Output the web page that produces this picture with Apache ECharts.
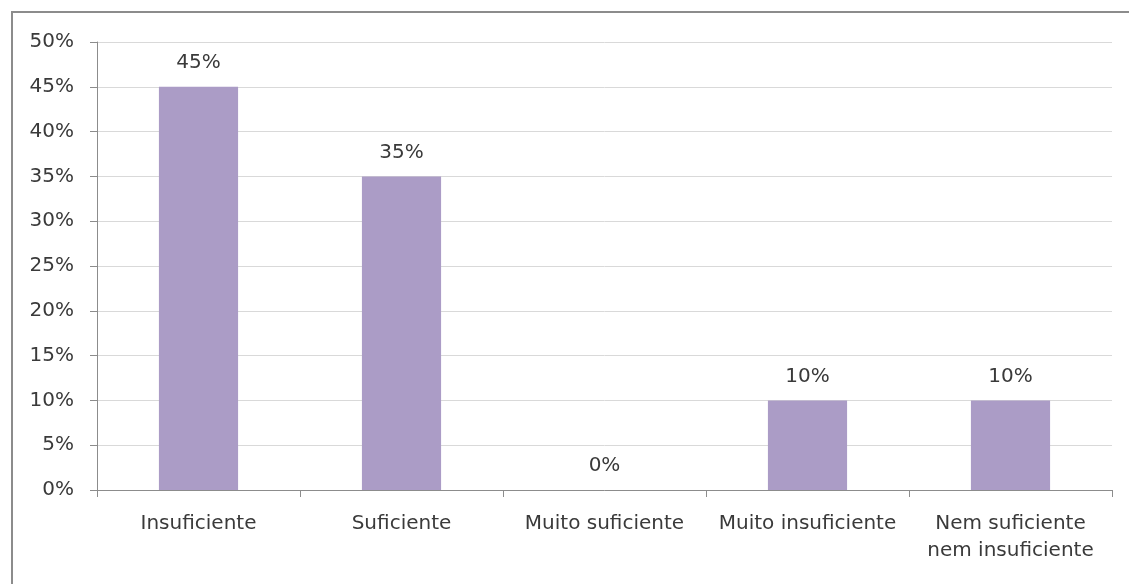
<!DOCTYPE html>
<html>
<head>
<meta charset="utf-8">
<script src="https://cdn.jsdelivr.net/npm/echarts@6/dist/echarts.min.js"></script>
<style>
  html, body { margin: 0; padding: 0; background: #fff; }
  #frame { position: absolute; left: 11px; top: 11px; width: 1130px; height: 600px;
           border-left: 2px solid #8c8c8c; border-top: 2px solid #8c8c8c; box-sizing: border-box; }
  #chart { position: absolute; left: 0; top: 0; width: 1129px; height: 584px; }
</style>
</head>
<body>
<div id="frame"></div>
<div id="chart"></div>
<script>
// Response categories and their shares (%)
const categories = ['Insuficiente', 'Suficiente', 'Muito suficiente', 'Muito insuficiente', 'Nem suficiente\nnem insuficiente'];
const shares = [45, 35, 0, 10, 10];
const yTicks = [0, 5, 10, 15, 20, 25, 30, 35, 40, 45, 50];

const font = '"DejaVu Sans", "Open Sans", sans-serif';
const chart = echarts.init(document.getElementById('chart'));
chart.setOption({
  animation: false,
  grid: { left: 97, right: 17, top: 42, bottom: 94 },
  xAxis: {
    type: 'category',
    data: categories,
    axisLine: { lineStyle: { color: '#8c8c8c', width: 1 } },
    axisTick: { show: true, length: 7, lineStyle: { color: '#8c8c8c' } },
    axisLabel: { interval: 0, color: '#3a3a3a', fontFamily: font, fontSize: 20, margin: 20, lineHeight: 27 }
  },
  yAxis: {
    type: 'value',
    min: yTicks[0],
    max: yTicks[yTicks.length - 1],
    interval: 5,
    axisLine: { show: true, lineStyle: { color: '#8c8c8c', width: 1 } },
    axisTick: { show: true, length: 7, lineStyle: { color: '#8c8c8c' } },
    splitLine: { lineStyle: { color: '#d9d9d9', width: 1 } },
    axisLabel: { color: '#3a3a3a', fontFamily: font, fontSize: 20, margin: 23, formatter: v => v + '%' }
  },
  series: [{
    type: 'bar',
    data: shares,
    barWidth: '39%',
    itemStyle: { color: '#ab9cc6' },
    label: {
      show: true, position: 'top', distance: 14,
      color: '#3a3a3a', fontFamily: font, fontSize: 20,
      formatter: p => p.value + '%'
    }
  }]
});
</script>
</body>
</html>
